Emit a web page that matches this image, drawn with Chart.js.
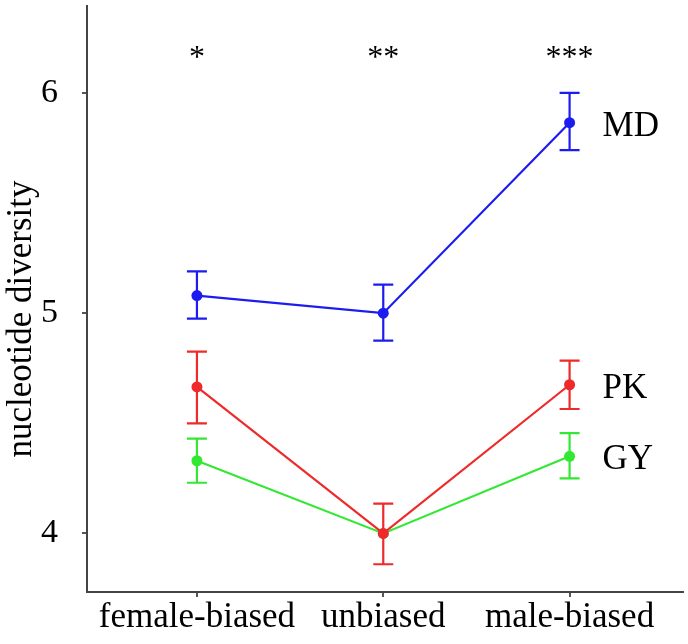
<!DOCTYPE html>
<html>
<head>
<meta charset="utf-8">
<script src="https://cdn.jsdelivr.net/npm/chart.js@4/dist/chart.umd.min.js"></script>
<style>
  html, body { margin: 0; padding: 0; background: #ffffff; }
  #wrap { width: 688px; height: 644px; position: relative; }
</style>
</head>
<body>
<div id="wrap"><canvas id="c" width="688" height="644"></canvas></div>
<script>
// ---- data ----
const categories = ['female-biased', 'unbiased', 'male-biased'];
const significance = ['*', '**', '***'];
const seriesNames = ['MD', 'PK', 'GY'];
const mdMean = [5.08, 5.00, 5.865];
const mdLow  = [4.975, 4.875, 5.74];
const mdHigh = [5.19, 5.13, 6.00];
const pkMean = [4.665, 4.00, 4.675];
const pkLow  = [4.50, 3.86, 4.565];
const pkHigh = [4.825, 4.135, 4.785];
const gyMean = [4.33, 4.00, 4.35];
const gyLow  = [4.23, null, 4.25];   // unbiased GY bar hidden behind PK
const gyHigh = [4.43, null, 4.455];
const yTicks = [4, 5, 6];
const yTitle = 'nucleotide diversity';

const colors = { MD: '#1c1cf0', PK: '#ee2a2a', GY: '#33e833' };
const FONT = '"Liberation Serif", "Times New Roman", serif';

function pts(arr) { return arr.map((v, i) => ({ x: i, y: v })); }

// first dataset is drawn on top by Chart.js
const series = [
  { name: 'MD', mean: mdMean, low: mdLow, high: mdHigh },
  { name: 'PK', mean: pkMean, low: pkLow, high: pkHigh },
  { name: 'GY', mean: gyMean, low: gyLow, high: gyHigh }
];

const datasets = series.map(s => ({
  label: s.name,
  data: pts(s.mean),
  borderColor: colors[s.name],
  backgroundColor: colors[s.name],
  borderWidth: 2.2,
  pointRadius: 5.5,
  pointHoverRadius: 5.5,
  pointBorderWidth: 0,
  showLine: true,
  tension: 0,
  errLow: s.low,
  errHigh: s.high
}));

const errorBarPlugin = {
  id: 'errorBars',
  afterDatasetsDraw(chart) {
    const ctx = chart.ctx;
    const xs = chart.scales.x, ys = chart.scales.y;
    chart.data.datasets.slice().reverse().forEach(ds => {
      ctx.save();
      ctx.strokeStyle = ds.borderColor;
      ctx.lineWidth = 2.2;
      ds.errLow.forEach((lo, i) => {
        if (lo == null || ds.errHigh[i] == null) return;
        const px = xs.getPixelForValue(i);
        const pLo = ys.getPixelForValue(lo);
        const pHi = ys.getPixelForValue(ds.errHigh[i]);
        const cap = 10;
        ctx.beginPath();
        ctx.moveTo(px, pLo); ctx.lineTo(px, pHi);
        ctx.moveTo(px - cap, pLo); ctx.lineTo(px + cap, pLo);
        ctx.moveTo(px - cap, pHi); ctx.lineTo(px + cap, pHi);
        ctx.stroke();
      });
      ctx.restore();
    });
  }
};

const textPlugin = {
  id: 'texts',
  afterDraw(chart) {
    const ctx = chart.ctx;
    const xs = chart.scales.x, ys = chart.scales.y;
    ctx.save();
    ctx.fillStyle = '#000';
    // significance stars
    ctx.font = '32px ' + FONT;
    ctx.textAlign = 'center';
    ctx.textBaseline = 'alphabetic';
    significance.forEach((s, i) => {
      ctx.fillText(s, xs.getPixelForValue(i), ys.getPixelForValue(6.12));
    });
    // series labels at the right
    ctx.font = '35px ' + FONT;
    ctx.textAlign = 'left';
    const last = categories.length - 1;
    chart.data.datasets.forEach(ds => {
      const px = xs.getPixelForValue(last) + 33;
      const py = ys.getPixelForValue(ds.data[last].y) + 13;
      ctx.fillText(ds.label, px, py);
    });
    // y-axis title
    ctx.font = '35px ' + FONT;
    ctx.textAlign = 'center';
    ctx.textBaseline = 'middle';
    ctx.translate(22, 319);
    ctx.rotate(-Math.PI / 2);
    ctx.fillText(yTitle, 0, 0);
    ctx.restore();
  }
};

function noPad(s) { s.paddingTop = 0; s.paddingBottom = 0; s.paddingLeft = 0; s.paddingRight = 0; }

new Chart(document.getElementById('c'), {
  type: 'scatter',
  data: { datasets },
  options: {
    responsive: false,
    animation: false,
    events: [],
    layout: { padding: { top: 2, right: 5, left: 0, bottom: 0 } },
    plugins: { legend: { display: false }, tooltip: { enabled: false } },
    scales: {
      x: {
        type: 'linear',
        min: -0.59,
        max: 2.606,
        afterBuildTicks: s => { s.ticks = categories.map((c, i) => ({ value: i })); },
        afterFit: s => { s.height = 52; noPad(s); },
        ticks: {
          callback: v => categories[v],
          font: { family: FONT, size: 35 },
          color: '#000',
          padding: 0,
          maxRotation: 0,
          autoSkip: false
        },
        grid: { drawOnChartArea: false, drawTicks: true, tickLength: 5, color: '#555', lineWidth: 2 },
        border: { display: true, color: '#444', width: 2 }
      },
      y: {
        type: 'linear',
        min: 3.734,
        max: 6.397,
        afterBuildTicks: s => { s.ticks = yTicks.map(v => ({ value: v })); },
        afterFit: s => { s.width = 87; noPad(s); },
        ticks: {
          callback: v => String(v),
          font: { family: FONT, size: 34 },
          color: '#000',
          padding: 24
        },
        grid: { drawOnChartArea: false, drawTicks: true, tickLength: 5, color: '#555', lineWidth: 2 },
        border: { display: true, color: '#444', width: 2 }
      }
    }
  },
  plugins: [errorBarPlugin, textPlugin]
});
</script>
</body>
</html>
